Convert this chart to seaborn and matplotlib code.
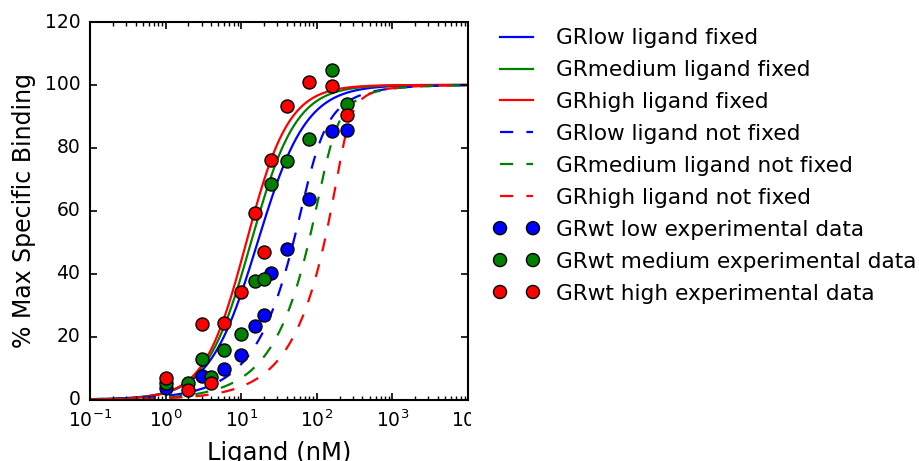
import numpy as np
import pandas as pd
import matplotlib
matplotlib.use("Agg")
import matplotlib.pyplot as plt
from matplotlib.patches import Rectangle
import seaborn as sns

plt.style.use("classic")
plt.rcParams["mathtext.fontset"] = "dejavusans"
plt.rcParams["font.family"] = ["DejaVu Sans"]

# ---------------- data ----------------
ligand = [1, 2, 3, 4, 6, 10, 15, 20, 25, 40, 80, 160, 250]
low_x = [1, 3, 6, 10, 15, 20, 25, 40, 80, 160, 250]
low_y = [3.6, 7.6, 9.7, 14.1, 23.4, 26.9, 40.1, 47.9, 63.8, 85.3, 85.8]
medium_y = [5.3, 5.2, 12.8, 7.2, 15.7, 20.7, 37.7, 38.3, 68.4, 75.8, 82.8, 104.8, 94.0]
high_y = [6.9, 3.0, 23.9, 5.3, 24.4, 34.3, 59.4, 46.8, 76.2, 93.3, 100.9, 99.8, 90.5]

levels = ["low", "medium", "high"]
colors = ["b", "g", "r"]
# ligand fixed fits: EC50 (nM) and Hill slope
fixed_ec50 = [16.5, 13.5, 11.7]
fixed_hill = [1.35, 1.46, 1.55]
# ligand not fixed fits (ligand depletion): receptor (nM) and Kd (nM)
notfixed_receptor = [77.5, 135.0, 236.0]
notfixed_kd = [10.25, 10.5, 8.0]

# ---------------- figure ----------------
W, H = 920, 461
fig = plt.figure(figsize=(W / 100, H / 100), dpi=100)
ax = fig.add_axes([90 / W, (H - 399.5) / H, (468 - 90) / W, (399.5 - 22) / H])

xs = np.logspace(-1, 4, 600)

def hill(x, ec50, n):
    return 100.0 / (1.0 + (ec50 / x) ** n)

def depletion(x, r, kd):
    s = r + x + kd
    b = (s - np.sqrt(s * s - 4 * r * x)) / 2.0
    return 100.0 * b / r

for lev, c, e, n in zip(levels, colors, fixed_ec50, fixed_hill):
    d = pd.DataFrame({"x": xs, "y": hill(xs, e, n)})
    sns.lineplot(data=d, x="x", y="y", color=c, lw=1.6, ax=ax,
                 label=f"GR{lev} ligand fixed")
for lev, c, r, k in zip(levels, colors, notfixed_receptor, notfixed_kd):
    d = pd.DataFrame({"x": xs, "y": depletion(xs, r, k)})
    sns.lineplot(data=d, x="x", y="y", color=c, lw=1.6, ax=ax,
                 label=f"GR{lev} ligand not fixed")
    ax.lines[-1].set_dashes([9.5, 9.5])

series = [(low_x, low_y), (ligand, medium_y), (ligand, high_y)]
for lev, c, (sx, sy) in zip(levels, colors, series):
    sns.scatterplot(x=sx, y=sy, color=c, edgecolor="k", linewidth=1.0, s=88,
                    ax=ax, label=f"GRwt {lev} experimental data", zorder=5)

ax.set_xscale("log")
ax.set_xlim(0.1, 1e4)
ax.set_ylim(0, 120)
ax.set_yticks([0, 20, 40, 60, 80, 100, 120])
for s in ax.spines.values():
    s.set_linewidth(1.5)
ax.tick_params(axis="both", which="major", labelsize=13.5, length=5, width=1.2, direction="in",
               top=True, right=True)
ax.tick_params(axis="x", which="major", pad=7)
ax.tick_params(axis="y", which="major", pad=7)
ax.tick_params(axis="both", which="minor", length=3, width=1.0, direction="in", top=True, right=True)
ax.set_xlabel("Ligand (nM)", fontsize=17.5, labelpad=7.5)
ax.set_ylabel("% Max Specific Binding", fontsize=17, labelpad=6)

# white legend panel that overlaps the last x tick label, as in the reference
fig.patches.append(Rectangle((471 / W, 0), 1 - 471 / W, 1, transform=fig.transFigure,
                             facecolor="white", edgecolor="none", zorder=3))

handles, labels = ax.get_legend_handles_labels()
if ax.get_legend() is not None:
    ax.get_legend().remove()
leg = fig.legend(handles, labels, loc="upper left",
                 bbox_to_anchor=(471 / W, 1 - 5.7 / H), frameon=False,
                 fontsize=15.6, numpoints=2, scatterpoints=2, scatteryoffsets=[0.5],
                 handlelength=2.12, handletextpad=0.76, labelspacing=0.55,
                 borderpad=1.04, borderaxespad=0.0)
leg.set_zorder(6)

fig.savefig("out.png", dpi=100)
